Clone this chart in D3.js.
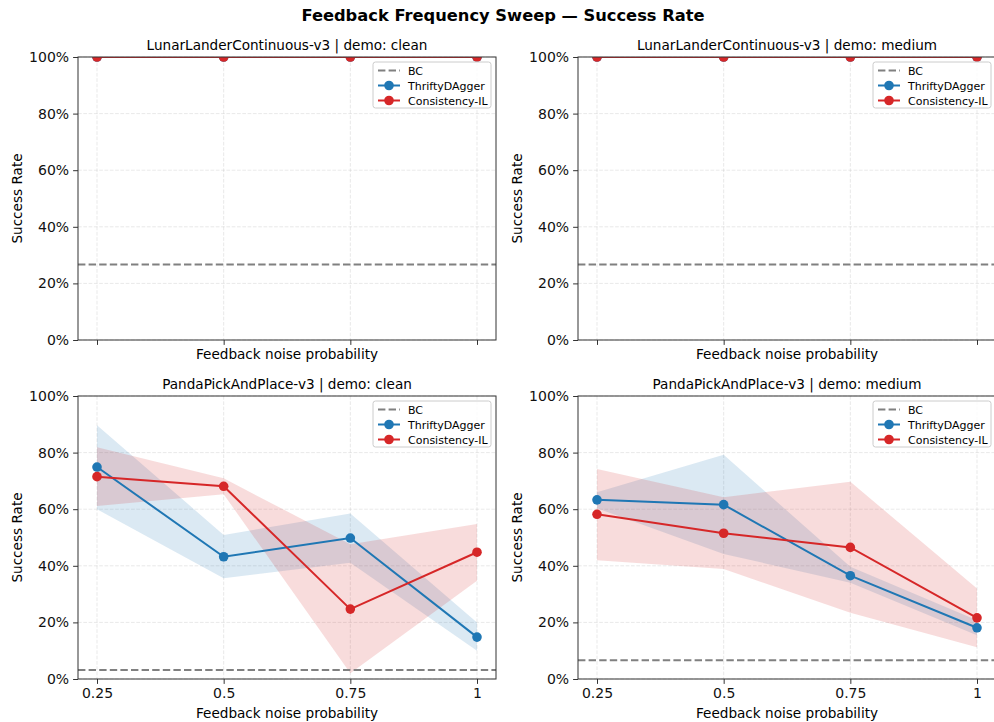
<!DOCTYPE html>
<html>
<head>
<meta charset="utf-8">
<script src="https://cdn.jsdelivr.net/npm/d3@7"></script>
<style>
  body { margin: 0; background: #fff; }
  svg { font-family: "DejaVu Sans", sans-serif; }
</style>
</head>
<body>
<script>
// noise probabilities on the x axis
var noise = [0.25, 0.5, 0.75, 1];
var xTickLabels = ["0.25", "0.5", "0.75", "1"];
var yTicks = [0, 0.2, 0.4, 0.6, 0.8, 1];

var panelTitles = [
  "LunarLanderContinuous-v3 | demo: clean",
  "LunarLanderContinuous-v3 | demo: medium",
  "PandaPickAndPlace-v3 | demo: clean",
  "PandaPickAndPlace-v3 | demo: medium"
];

// BC baseline per panel
var bcLevel = [0.267, 0.267, 0.032, 0.066];

// ThriftyDAgger mean / band per panel
var thriftyMean = [
  [1, 1, 1, 1],
  [1, 1, 1, 1],
  [0.749, 0.432, 0.498, 0.148],
  [0.633, 0.616, 0.365, 0.181]
];
var thriftyLo = [
  [1, 1, 1, 1],
  [1, 1, 1, 1],
  [0.60, 0.356, 0.411, 0.10],
  [0.603, 0.442, 0.34, 0.155]
];
var thriftyHi = [
  [1, 1, 1, 1],
  [1, 1, 1, 1],
  [0.897, 0.509, 0.585, 0.20],
  [0.66, 0.792, 0.397, 0.208]
];

// Consistency-IL mean / band per panel
var consMean = [
  [1, 1, 1, 1],
  [1, 1, 1, 1],
  [0.715, 0.681, 0.247, 0.448],
  [0.582, 0.515, 0.465, 0.216]
];
var consLo = [
  [1, 1, 1, 1],
  [1, 1, 1, 1],
  [0.611, 0.653, 0.02, 0.347],
  [0.42, 0.389, 0.234, 0.112]
];
var consHi = [
  [1, 1, 1, 1],
  [1, 1, 1, 1],
  [0.819, 0.709, 0.476, 0.548],
  [0.742, 0.642, 0.697, 0.32]
];

var blue = "#1f77b4", red = "#d62728";

var W = 994, H = 722;
var svg = d3.select("body").append("svg")
    .attr("width", W).attr("height", H);

svg.append("text")
    .attr("x", W / 2 + 6).attr("y", 21)
    .attr("text-anchor", "middle")
    .attr("font-size", 16.3).attr("font-weight", "bold")
    .text("Feedback Frequency Sweep \u2014 Success Rate");

var pw = 418, ph = 283;
var origins = [[78, 57], [578, 57], [78, 396], [578, 396]];

origins.forEach(function(o, i) {
  var g = svg.append("g").attr("transform", "translate(" + o[0] + "," + o[1] + ")");
  var x = d3.scaleLinear().domain([0.2125, 1.0375]).range([0, pw]);
  var y = d3.scaleLinear().domain([0, 1]).range([ph, 0]);
  var bottomRow = i >= 2;

  g.append("clipPath").attr("id", "clip" + i)
    .append("rect").attr("width", pw).attr("height", ph);

  // grid
  g.append("g").selectAll("line").data(noise).enter().append("line")
      .attr("x1", d => x(d)).attr("x2", d => x(d))
      .attr("y1", 0).attr("y2", ph)
      .attr("stroke", "#b0b0b0").attr("stroke-opacity", 0.35)
      .attr("stroke-dasharray", "3.7,1.6").attr("stroke-width", 0.8);
  g.append("g").selectAll("line").data(yTicks).enter().append("line")
      .attr("y1", d => y(d)).attr("y2", d => y(d))
      .attr("x1", 0).attr("x2", pw)
      .attr("stroke", "#b0b0b0").attr("stroke-opacity", 0.35)
      .attr("stroke-dasharray", "3.7,1.6").attr("stroke-width", 0.8);

  var plot = g.append("g").attr("clip-path", "url(#clip" + i + ")");

  var area = d3.area()
      .x((d, j) => x(noise[j]))
      .y0(d => y(d[0])).y1(d => y(d[1]));
  var line = d3.line().x((d, j) => x(noise[j])).y(d => y(d));

  plot.append("path")
      .datum(thriftyLo[i].map((v, j) => [v, thriftyHi[i][j]]))
      .attr("d", area).attr("fill", blue).attr("fill-opacity", 0.16);
  plot.append("path")
      .datum(consLo[i].map((v, j) => [v, consHi[i][j]]))
      .attr("d", area).attr("fill", red).attr("fill-opacity", 0.16);

  plot.append("line")
      .attr("x1", 0).attr("x2", pw)
      .attr("y1", y(bcLevel[i])).attr("y2", y(bcLevel[i]))
      .attr("stroke", "#808080").attr("stroke-width", 2)
      .attr("stroke-dasharray", "7.4,3.2");

  [[thriftyMean[i], blue], [consMean[i], red]].forEach(function(s) {
    plot.append("path").datum(s[0]).attr("d", line)
        .attr("fill", "none").attr("stroke", s[1]).attr("stroke-width", 2);
    plot.selectAll(null).data(s[0]).enter().append("circle")
        .attr("cx", (d, j) => x(noise[j])).attr("cy", d => y(d))
        .attr("r", 4.8).attr("fill", s[1]);
  });

  // axes
  var xAxis = d3.axisBottom(x).tickValues(noise).tickSize(4.9).tickPadding(4)
      .tickFormat((d, j) => bottomRow ? xTickLabels[j] : "");
  var yAxis = d3.axisLeft(y).tickValues(yTicks).tickSize(4.9).tickPadding(4)
      .tickFormat(d3.format(".0%"));
  var gx = g.append("g").attr("transform", "translate(0," + ph + ")").call(xAxis);
  var gy = g.append("g").call(yAxis);
  [gx, gy].forEach(function(a) {
    a.select(".domain").remove();
    a.selectAll("line").attr("stroke", "#333").attr("stroke-width", 1);
    a.selectAll("text").attr("font-size", 14).attr("fill", "#111")
        .attr("font-family", "DejaVu Sans");
  });

  g.append("rect").attr("width", pw).attr("height", ph)
      .attr("fill", "none").attr("stroke", "#333").attr("stroke-width", 1);

  g.append("text").attr("x", pw / 2).attr("y", -7)
      .attr("text-anchor", "middle").attr("font-size", 13.6)
      .text(panelTitles[i]);
  g.append("text").attr("x", pw / 2).attr("y", bottomRow ? ph + 39 : ph + 19)
      .attr("text-anchor", "middle").attr("font-size", 13.6)
      .text("Feedback noise probability");
  g.append("text")
      .attr("transform", "translate(" + (-56) + "," + (ph / 2) + ") rotate(-90)")
      .attr("text-anchor", "middle").attr("font-size", 13.6)
      .text("Success Rate");

  // legend
  var lg = g.append("g").attr("transform", "translate(" + (pw - 123) + ",5)");
  lg.append("rect").attr("width", 118).attr("height", 46).attr("rx", 2.5)
      .attr("fill", "#fff").attr("fill-opacity", 0.8)
      .attr("stroke", "#ccc").attr("stroke-width", 1);
  var items = [["BC", "#808080", true], ["ThriftyDAgger", blue, false], ["Consistency-IL", red, false]];
  items.forEach(function(it, k) {
    var yy = 8.5 + k * 15;
    lg.append("line").attr("x1", 5).attr("x2", 27).attr("y1", yy).attr("y2", yy)
        .attr("stroke", it[1]).attr("stroke-width", 2)
        .attr("stroke-dasharray", it[2] ? "7.4,3.2" : null);
    if (!it[2]) lg.append("circle").attr("cx", 16).attr("cy", yy).attr("r", 4.8).attr("fill", it[1]);
    lg.append("text").attr("x", 35).attr("y", yy + 4)
        .attr("font-size", 11).text(it[0]);
  });
});
</script>
</body>
</html>
